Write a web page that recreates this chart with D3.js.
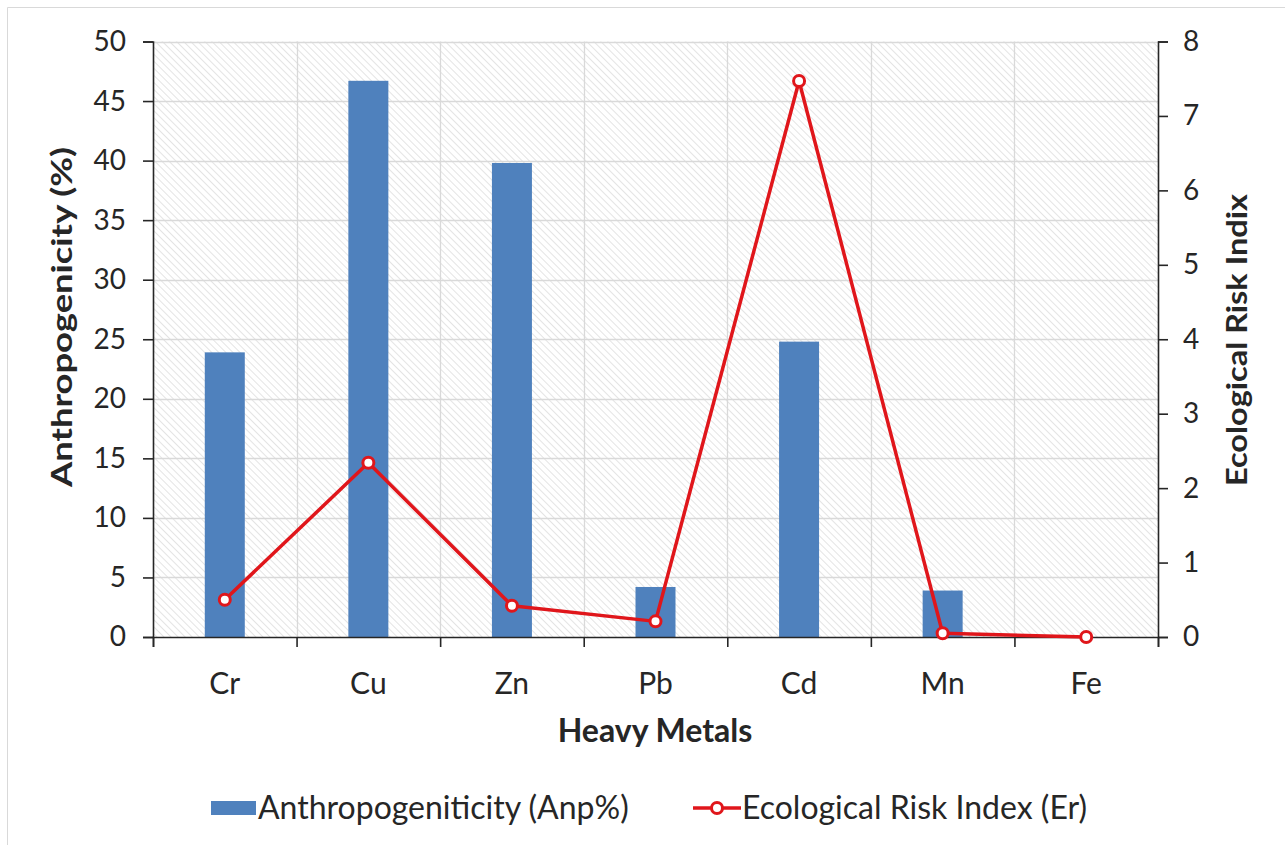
<!DOCTYPE html>
<html>
<head>
<meta charset="utf-8">
<script src="https://cdn.jsdelivr.net/npm/d3@7"></script>
<style>
  html, body { margin: 0; padding: 0; background: #fff; }
  svg { display: block; font-family: Lato, "Open Sans", sans-serif; }
</style>
</head>
<body>
<svg id="chart" width="1285" height="845"></svg>
<script>
// Heavy metal categories
const metals = ["Cr", "Cu", "Zn", "Pb", "Cd", "Mn", "Fe"];
// Anthropogenicity (Anp%) per metal
const anpValues = [23.9, 46.7, 39.8, 4.2, 24.8, 3.9, 0];
// Ecological risk index (Er) per metal
const erValues = [0.50, 2.34, 0.42, 0.21, 7.47, 0.05, 0.0];
// Axis tick values
const leftTicks = [0, 5, 10, 15, 20, 25, 30, 35, 40, 45, 50];
const rightTicks = [0, 1, 2, 3, 4, 5, 6, 7, 8];

const svg = d3.select("#chart");
const W = 1285, H = 845;
const m = { left: 153, right: 1158, top: 41.5, bottom: 637 };

const barColor = "#4F81BD";
const lineColor = "#E0161B";
const gridColor = "#d9d9d9";
const axisColor = "#262626";
const textColor = "#262626";

// Outer frame
svg.append("path")
  .attr("d", `M7.5,${H} V7.5 H${W}`)
  .attr("fill", "none").attr("stroke", "#d9d9d9").attr("stroke-width", 1);

// Diagonal hatch for the plot area
const defs = svg.append("defs");
const pat = defs.append("pattern")
  .attr("id", "hatch")
  .attr("patternUnits", "userSpaceOnUse")
  .attr("width", 5).attr("height", 5)
  .attr("patternTransform", "rotate(-45)");
pat.append("rect").attr("width", 5).attr("height", 5).attr("fill", "#ffffff");
pat.append("line").attr("x1", 0).attr("y1", 0).attr("x2", 0).attr("y2", 5)
  .attr("stroke", "#cfcfcf").attr("stroke-width", 1.1);

const x = d3.scaleBand().domain(metals).range([m.left, m.right]).paddingInner(0).paddingOuter(0);
const yL = d3.scaleLinear().domain([0, 50]).range([m.bottom, m.top]);
const yR = d3.scaleLinear().domain([0, 8]).range([m.bottom, m.top]);

svg.append("rect")
  .attr("x", m.left).attr("y", m.top)
  .attr("width", m.right - m.left).attr("height", m.bottom - m.top)
  .attr("fill", "url(#hatch)");

// Horizontal gridlines
svg.append("g").selectAll("line").data(leftTicks.slice(1)).join("line")
  .attr("x1", m.left).attr("x2", m.right)
  .attr("y1", d => Math.round(yL(d)) + 0.5).attr("y2", d => Math.round(yL(d)) + 0.5)
  .attr("stroke", gridColor).attr("stroke-width", 1.3);

// Vertical gridlines at category boundaries
const bounds = metals.slice(1).map(d => x(d));
svg.append("g").selectAll("line").data(bounds).join("line")
  .attr("x1", d => Math.round(d) + 0.5).attr("x2", d => Math.round(d) + 0.5)
  .attr("y1", m.top).attr("y2", m.bottom)
  .attr("stroke", gridColor).attr("stroke-width", 1.3);

// Bars
const barW = 40;
svg.append("g").selectAll("rect").data(metals).join("rect")
  .attr("x", (d) => x(d) + x.bandwidth() / 2 - barW / 2)
  .attr("width", barW)
  .attr("y", (d, i) => yL(anpValues[i]))
  .attr("height", (d, i) => yL(0) - yL(anpValues[i]))
  .attr("fill", barColor);

// Left axis
const axL = svg.append("g").attr("transform", `translate(${m.left},0)`)
  .call(d3.axisLeft(yL).tickValues(leftTicks).tickSize(10).tickPadding(17));
// Right axis
const axR = svg.append("g").attr("transform", `translate(${m.right},0)`)
  .call(d3.axisRight(yR).tickValues(rightTicks).tickSize(10).tickPadding(15));
// Bottom axis with ticks at category boundaries
const xb = d3.scaleLinear().domain([0, metals.length]).range([m.left, m.right]);
const axB = svg.append("g").attr("transform", `translate(0,${m.bottom})`)
  .call(d3.axisBottom(xb).tickValues(d3.range(0, metals.length + 1)).tickSize(10).tickFormat(""));

[axL, axR, axB].forEach(a => {
  a.select(".domain").attr("stroke", axisColor).attr("stroke-width", 1.6);
  a.selectAll(".tick line").attr("stroke", axisColor).attr("stroke-width", 1.6);
  a.selectAll("text").attr("font-size", 28).attr("fill", textColor)
    .attr("font-family", "Lato, 'Open Sans', sans-serif");
});

// Category labels
svg.append("g").selectAll("text").data(metals).join("text")
  .attr("x", d => x(d) + x.bandwidth() / 2)
  .attr("y", 694)
  .attr("text-anchor", "middle")
  .attr("font-size", 30).attr("fill", textColor)
  .text(d => d);

// Ecological risk line
const line = d3.line()
  .x((d, i) => x(metals[i]) + x.bandwidth() / 2)
  .y(d => yR(d));
svg.append("path").datum(erValues)
  .attr("d", line)
  .attr("fill", "none").attr("stroke", lineColor).attr("stroke-width", 3.5)
  .attr("stroke-linejoin", "round");
svg.append("g").selectAll("circle").data(erValues).join("circle")
  .attr("cx", (d, i) => x(metals[i]) + x.bandwidth() / 2)
  .attr("cy", d => yR(d))
  .attr("r", 5.5)
  .attr("fill", "#fff").attr("stroke", lineColor).attr("stroke-width", 3);

// Axis titles
svg.append("text")
  .attr("transform", `translate(72,317) rotate(-90)`)
  .attr("text-anchor", "middle").attr("font-size", 28).attr("font-weight", "bold")
  .attr("textLength", 340).attr("lengthAdjust", "spacingAndGlyphs")
  .attr("fill", textColor).text("Anthropogenicity (%)");
svg.append("text")
  .attr("transform", `translate(1247,340) rotate(-90)`)
  .attr("text-anchor", "middle").attr("font-size", 28).attr("font-weight", "bold")
  .attr("textLength", 292).attr("lengthAdjust", "spacingAndGlyphs")
  .attr("fill", textColor).text("Ecological Risk Indix");
svg.append("text")
  .attr("x", 655).attr("y", 742)
  .attr("text-anchor", "middle").attr("font-size", 32).attr("font-weight", "bold")
  .attr("fill", textColor).text("Heavy Metals");

// Legend
const lg = svg.append("g");
lg.append("rect").attr("x", 211).attr("y", 801).attr("width", 45).attr("height", 14).attr("fill", barColor);
lg.append("text").attr("x", 258).attr("y", 819).attr("font-size", 32).attr("fill", textColor)
  .text("Anthropogeniticity (Anp%)");
lg.append("line").attr("x1", 693).attr("x2", 741).attr("y1", 808).attr("y2", 808)
  .attr("stroke", lineColor).attr("stroke-width", 3.5);
lg.append("circle").attr("cx", 717).attr("cy", 808).attr("r", 5.5)
  .attr("fill", "#fff").attr("stroke", lineColor).attr("stroke-width", 3);
lg.append("text").attr("x", 742).attr("y", 819).attr("font-size", 32).attr("fill", textColor)
  .text("Ecological Risk Index (Er)");
</script>
</body>
</html>
